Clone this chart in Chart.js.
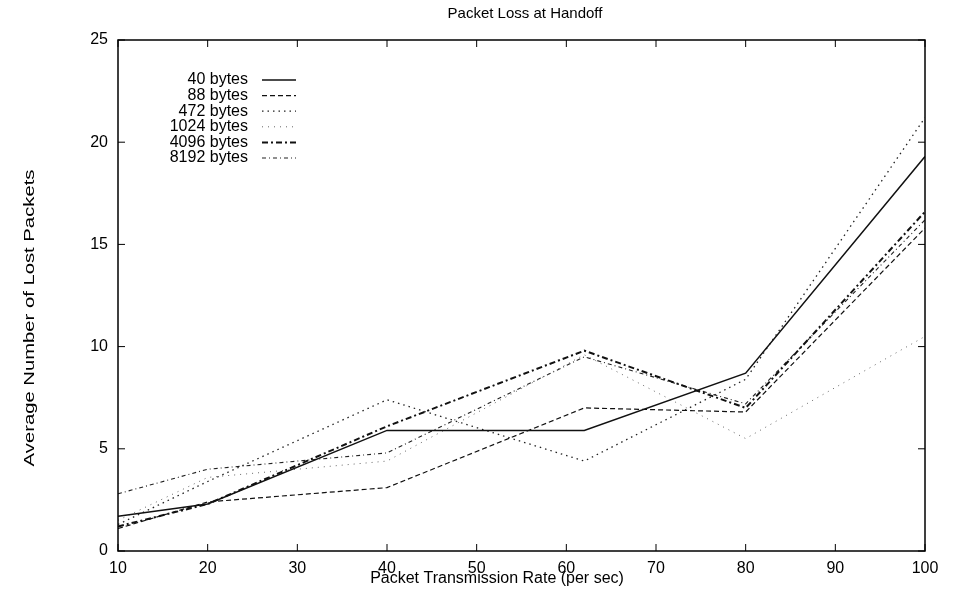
<!DOCTYPE html>
<html>
<head>
<meta charset="utf-8">
<script src="https://cdn.jsdelivr.net/npm/chart.js@4"></script>
<style>
  html, body { margin: 0; padding: 0; background: #fff; }
  #wrap { width: 960px; height: 593px; }
</style>
</head>
<body>
<div id="wrap"><canvas id="myChart" width="960" height="593"></canvas></div>
<script>
// datos
const tasas = [10, 20, 40, 62, 80, 100];
const bytes40 = [1.7, 2.3, 5.9, 5.9, 8.7, 19.3];
const bytes88 = [1.1, 2.4, 3.1, 7.0, 6.8, 15.8];
const bytes472 = [1.3, 3.4, 7.4, 4.4, 8.4, 21.2];
const bytes1024 = [1.5, 3.6, 4.4, 9.6, 5.5, 10.5];
const bytes4096 = [1.2, 2.3, 6.1, 9.8, 7.0, 16.6];
const bytes8192 = [2.8, 4.0, 4.8, 9.5, 7.2, 16.2];
const etiquetas = ['40 bytes', '88 bytes', '472 bytes', '1024 bytes', '4096 bytes', '8192 bytes'];
const ticksX = [10, 20, 30, 40, 50, 60, 70, 80, 90, 100];
const ticksY = [0, 5, 10, 15, 20, 25];

const fuente = '"Liberation Sans", Arial, sans-serif';

function serie(label, valores, dash, width, color) {
  return {
    label: label,
    data: tasas.map((x, i) => ({ x: x, y: valores[i] })),
    borderColor: color,
    borderWidth: width,
    borderDash: dash,
    pointRadius: 0,
    tension: 0,
    fill: false
  };
}

// marco, marcas hacia dentro, titulos y leyenda al estilo gnuplot
const estiloGnuplot = {
  id: 'estiloGnuplot',
  afterDraw(chart) {
    const ctx = chart.ctx;
    const a = chart.chartArea;
    const sx = chart.scales.x, sy = chart.scales.y;
    ctx.save();
    ctx.strokeStyle = '#000';
    ctx.lineWidth = 1.5;
    ctx.setLineDash([]);
    ctx.strokeRect(a.left, a.top, a.right - a.left, a.bottom - a.top);
    ctx.lineWidth = 1;
    ticksX.forEach(v => {
      const px = sx.getPixelForValue(v);
      ctx.beginPath();
      ctx.moveTo(px, a.bottom); ctx.lineTo(px, a.bottom - 7);
      ctx.moveTo(px, a.top); ctx.lineTo(px, a.top + 7);
      ctx.stroke();
    });
    ticksY.forEach(v => {
      const py = sy.getPixelForValue(v);
      ctx.beginPath();
      ctx.moveTo(a.left, py); ctx.lineTo(a.left + 7, py);
      ctx.moveTo(a.right, py); ctx.lineTo(a.right - 7, py);
      ctx.stroke();
    });

    // titulos
    ctx.fillStyle = '#000';
    ctx.textAlign = 'center';
    ctx.textBaseline = 'middle';
    ctx.font = '15px ' + fuente;
    ctx.fillText('Packet Loss at Handoff', 525, 14);
    ctx.font = '16px ' + fuente;
    ctx.fillText('Packet Transmission Rate (per sec)', 497, 579);
    ctx.save();
    ctx.translate(30, 318);
    ctx.rotate(-Math.PI / 2);
    ctx.scale(1.35, 1);
    ctx.font = '15px ' + fuente;
    ctx.fillText('Average Number of Lost Packets', 0, 0);
    ctx.restore();

    // leyenda
    ctx.font = '16px ' + fuente;
    ctx.textAlign = 'right';
    chart.data.datasets.forEach((ds, i) => {
      const y = 80 + i * 15.6;
      ctx.fillStyle = '#000';
      ctx.fillText(ds.label, 248, y);
      ctx.strokeStyle = ds.borderColor;
      ctx.lineWidth = ds.borderWidth;
      ctx.setLineDash(ds.borderDash);
      ctx.beginPath();
      ctx.moveTo(262, y);
      ctx.lineTo(296, y);
      ctx.stroke();
    });
    ctx.restore();
  }
};

const ctx = document.getElementById('myChart');

new Chart(ctx, {
  type: 'line',
  data: {
    datasets: [
      serie(etiquetas[0], bytes40, [], 1.5, '#111'),
      serie(etiquetas[1], bytes88, [5, 3], 1.2, '#111'),
      serie(etiquetas[2], bytes472, [1.5, 4], 1.3, '#222'),
      serie(etiquetas[3], bytes1024, [1, 5], 1, '#666'),
      serie(etiquetas[4], bytes4096, [6, 3, 2, 3], 2, '#111'),
      serie(etiquetas[5], bytes8192, [4, 3, 1, 3], 1.1, '#222')
    ]
  },
  options: {
    responsive: false,
    animation: false,
    layout: { padding: { left: 0, right: 35, top: 40, bottom: 0 } },
    plugins: {
      legend: { display: false },
      title: { display: false },
      tooltip: { enabled: false }
    },
    scales: {
      x: {
        type: 'linear',
        min: 10,
        max: 100,
        afterFit: s => { s.height = 42; },
        afterBuildTicks: s => { s.ticks = ticksX.map(v => ({ value: v })); },
        grid: { display: false },
        border: { display: false },
        ticks: { color: '#000', padding: 0, maxRotation: 0, font: { family: fuente, size: 16 } }
      },
      y: {
        min: 0,
        max: 25,
        afterFit: s => { s.width = 118; },
        afterBuildTicks: s => { s.ticks = ticksY.map(v => ({ value: v })); },
        grid: { display: false },
        border: { display: false },
        ticks: { color: '#000', padding: 2, font: { family: fuente, size: 16 } }
      }
    }
  },
  plugins: [estiloGnuplot]
});
</script>
</body>
</html>
